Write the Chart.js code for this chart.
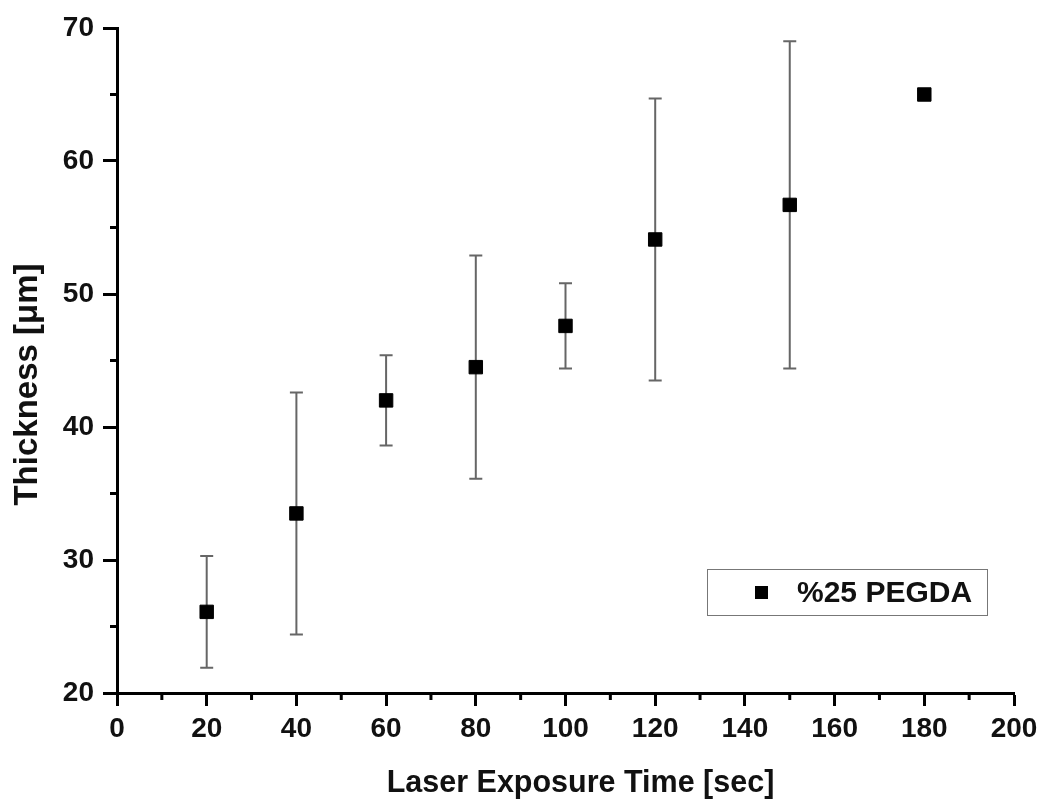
<!DOCTYPE html>
<html>
<head>
  <title>PEGDA thickness</title>
  <script src="https://cdn.jsdelivr.net/npm/chart.js"></script>
  <style>
    body {
      margin: 0;
      background: #fff;
    }
    #wrap {
      position: relative;
      width: 1044px;
      height: 803px;
    }
    #legend {
      position: absolute;
      left: 707px;
      top: 569px;
      width: 281px;
      height: 47px;
      box-sizing: border-box;
      border: 1.5px solid #777;
      font-family: "Liberation Sans", Arial, sans-serif;
      font-weight: bold;
      font-size: 30px;
      color: #111;
    }
    #legend .mark {
      position: absolute;
      left: 47px;
      top: 16px;
      width: 13px;
      height: 13px;
      background: #000;
    }
    #legend .text {
      position: absolute;
      left: 89px;
      top: 5px;
      line-height: 34px;
    }
  </style>
</head>
<body>
  <div id="wrap">
    <canvas id="chart" width="1044" height="803"></canvas>
    <div id="legend"></div>
  </div>

  <script>
    // exposure time (sec) and measured thickness (um), mean with min/max
    var times = [20, 40, 60, 80, 100, 120, 150, 180];
    var thickness = [26.1, 33.5, 42.0, 44.5, 47.6, 54.1, 56.7, 65.0];
    var upper = [30.3, 42.6, 45.4, 52.9, 50.8, 64.7, 69.0, 65.3];
    var lower = [21.9, 24.4, 38.6, 36.1, 44.4, 43.5, 44.4, 64.7];
    var seriesName = "%25 PEGDA";
    var xTitle = "Laser Exposure Time [sec]";
    var yTitle = "Thickness [μm]";

    var FONT = "'Liberation Sans', Arial, sans-serif";

    // vertical whiskers with caps, drawn under the markers
    var errorBars = {
      id: "errorBars",
      beforeDatasetsDraw: function(chart) {
        var ctx = chart.ctx;
        var x = chart.scales.x, y = chart.scales.y;
        ctx.save();
        ctx.strokeStyle = "#666";
        ctx.lineWidth = 2;
        for (var i = 0; i < times.length; i++) {
          var px = x.getPixelForValue(times[i]);
          var top = y.getPixelForValue(upper[i]);
          var bot = y.getPixelForValue(lower[i]);
          ctx.beginPath();
          ctx.moveTo(px, top);
          ctx.lineTo(px, bot);
          ctx.moveTo(px - 6.5, top);
          ctx.lineTo(px + 6.5, top);
          ctx.moveTo(px - 6.5, bot);
          ctx.lineTo(px + 6.5, bot);
          ctx.stroke();
        }
        ctx.restore();
      }
    };

    // short ticks halfway between the labelled ones
    var minorTicks = {
      id: "minorTicks",
      afterDraw: function(chart) {
        var ctx = chart.ctx;
        var x = chart.scales.x, y = chart.scales.y;
        var area = chart.chartArea;
        ctx.save();
        ctx.strokeStyle = "#000";
        ctx.lineWidth = 3;
        ctx.beginPath();
        for (var v = x.min + 10; v < x.max; v += 20) {
          var px = x.getPixelForValue(v);
          ctx.moveTo(px, area.bottom);
          ctx.lineTo(px, area.bottom + 7);
        }
        for (var w = y.min + 5; w < y.max; w += 10) {
          var py = y.getPixelForValue(w);
          ctx.moveTo(area.left, py);
          ctx.lineTo(area.left - 7, py);
        }
        ctx.stroke();
        ctx.restore();
      }
    };

    // axis titles, a little off-centre like the original Origin layout
    var axisTitles = {
      id: "axisTitles",
      afterDraw: function(chart) {
        var ctx = chart.ctx;
        var area = chart.chartArea;
        ctx.save();
        ctx.fillStyle = "#111";
        ctx.textAlign = "center";
        ctx.textBaseline = "middle";
        ctx.font = "bold 30.5px " + FONT;
        ctx.fillText(xTitle, (area.left + area.right) / 2 + 15, area.bottom + 91);
        ctx.translate(area.left - 89, (area.top + area.bottom) / 2 + 24);
        ctx.rotate(-Math.PI / 2);
        ctx.font = "bold 33px " + FONT;
        ctx.fillText(yTitle, 0, 0);
        ctx.restore();
      }
    };

    var ctx = document.getElementById("chart").getContext("2d");
    var chart = new Chart(ctx, {
      type: "scatter",
      data: {
        datasets: [{
          label: seriesName,
          data: times.map(function(t, i) { return { x: t, y: thickness[i] }; }),
          pointStyle: "rect",
          pointRadius: 9.5,
          pointHoverRadius: 9.5,
          backgroundColor: "#000",
          borderColor: "#000",
          borderWidth: 1
        }]
      },
      plugins: [errorBars, minorTicks, axisTitles],
      options: {
        responsive: false,
        animation: false,
        layout: {
          padding: { top: 28, right: 30, left: 0, bottom: 0 }
        },
        plugins: {
          legend: { display: false },
          tooltip: { enabled: false }
        },
        scales: {
          x: {
            type: "linear",
            min: 0,
            max: 200,
            afterFit: function(scale) { scale.height = 110; },
            border: { color: "#000", width: 3 },
            grid: {
              drawOnChartArea: false,
              tickLength: 13,
              tickWidth: 3,
              tickColor: "#000"
            },
            ticks: {
              stepSize: 20,
              padding: 6,
              color: "#111",
              font: { family: FONT, size: 28, weight: "bold" }
            }
          },
          y: {
            min: 20,
            max: 70,
            afterFit: function(scale) { scale.width = 117; },
            border: { color: "#000", width: 3 },
            grid: {
              drawOnChartArea: false,
              tickLength: 14,
              tickWidth: 3,
              tickColor: "#000"
            },
            ticks: {
              stepSize: 10,
              padding: 9,
              color: "#111",
              font: { family: FONT, size: 28, weight: "bold" }
            }
          }
        }
      }
    });

    // legend box inside the plot, built from the dataset
    var legend = document.getElementById("legend");
    chart.data.datasets.forEach(function(ds) {
      legend.innerHTML = '<span class="mark"></span><span class="text">' + ds.label + '</span>';
    });
  </script>
</body>
</html>
